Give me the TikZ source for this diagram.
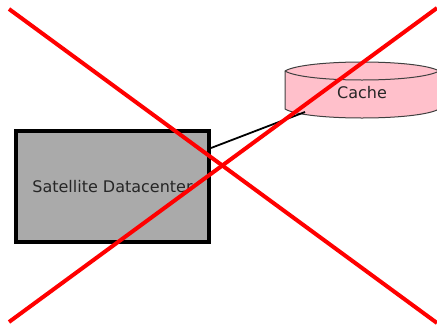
\documentclass[tikz,border=0pt]{standalone}
\usepackage{fontspec}
\setmainfont{DejaVu Sans}
\definecolor{boxgray}{HTML}{AAAAAA}
\definecolor{cachepink}{HTML}{FFC0CB}
\definecolor{cacheedge}{HTML}{404040}
\begin{document}
\begin{tikzpicture}[x=1pt,y=1pt,
  dcbox/.style={draw=black,line width=4pt,fill=boxgray,minimum width=193pt,minimum height=111pt,inner sep=0pt,font=\fontsize{16}{19}\selectfont,text=black!85},
  cachelabel/.style={font=\fontsize{16}{19}\selectfont,text=black!85,inner sep=0pt},
  link/.style={draw=black,line width=1.8pt},
  cross/.style={draw=red,line width=4pt}]
\useasboundingbox (0,0) rectangle (437,-327);
% satellite datacenter box
\node[dcbox] (dc) at (112.5,-186.5) {Satellite Datacenter};
% cache drawn as a cylinder
\fill[cachepink,draw=cacheedge,line width=1pt]
  (285,-71) .. controls (305,-59) and (419,-59) .. (439,-71)
  -- (439,-109) .. controls (419,-121) and (305,-121) .. (285,-109) -- cycle;
\draw[cacheedge,line width=1pt]
  (285,-71) .. controls (305,-83) and (419,-83) .. (439,-71);
\node[cachelabel] (cache) at (362,-93) {Cache};
\coordinate (cachefoot) at (305,-112);
\draw[link] (dc.east |- 0,-148) -- (cachefoot);
% crossing-out lines
\coordinate (tl) at (9,-9);
\coordinate (br) at (437,-323);
\coordinate (bl) at (9,-322);
\coordinate (tr) at (437,-8);
\draw[cross] (tl) -- (br);
\draw[cross] (bl) -- (tr);
\end{tikzpicture}
\end{document}
